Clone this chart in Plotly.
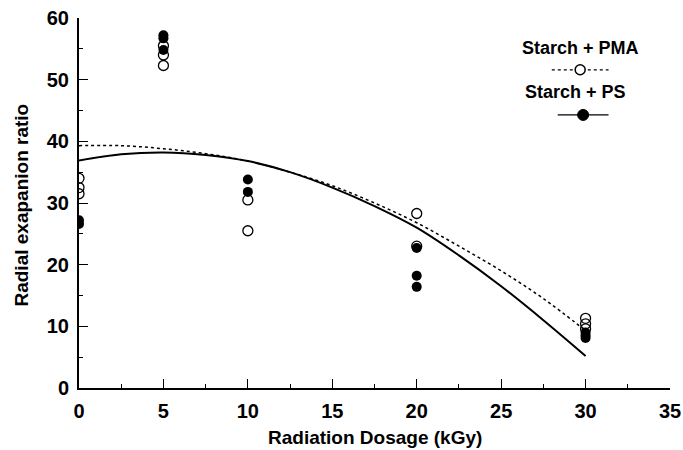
import plotly.graph_objects as go

# Measured points
pma_x = [0, 0, 0, 5, 5, 5, 10, 10, 20, 20, 30, 30, 30]
pma_y = [34.0, 32.5, 31.5, 55.5, 54.0, 52.3, 30.5, 25.5, 28.3, 23.0, 11.3, 10.4, 9.6]
ps_x = [0, 0, 5, 5, 5, 10, 10, 20, 20, 20, 30, 30, 30]
ps_y = [27.2, 26.6, 57.2, 56.7, 54.8, 33.8, 31.8, 22.7, 18.2, 16.4, 9.0, 8.5, 8.1]

# Fitted trend curves
fit_x = [0, 2.5, 5, 7.5, 10, 12.5, 15, 17.5, 20, 22.5, 25, 27.5, 30]
pma_fit = [39.3, 39.3, 38.8, 38.0, 36.8, 35.0, 32.8, 30.0, 26.8, 23.0, 19.0, 14.5, 9.3]
ps_fit = [36.9, 37.9, 38.2, 37.8, 36.8, 35.0, 32.5, 29.5, 26.0, 21.5, 16.5, 11.0, 5.2]

x_ticks = [0, 5, 10, 15, 20, 25, 30, 35]
y_ticks = [0, 10, 20, 30, 40, 50, 60]
legend_names = ["Starch + PMA", "Starch + PS"]
x_title = "Radiation Dosage (kGy)"
y_title = "Radial exapanion ratio"

FONT = "Liberation Sans, Arial, sans-serif"

fig = go.Figure()
fig.add_trace(go.Scatter(x=fit_x, y=pma_fit, mode="lines", line=dict(color="black", width=1.5, dash="dot", shape="spline"), showlegend=False))
fig.add_trace(go.Scatter(x=fit_x, y=ps_fit, mode="lines", line=dict(color="black", width=2, shape="spline"), showlegend=False))
fig.add_trace(go.Scatter(x=pma_x, y=pma_y, mode="markers",
                         marker=dict(symbol="circle-open", size=10, color="black", line=dict(width=1.3)), showlegend=False))
fig.add_trace(go.Scatter(x=ps_x, y=ps_y, mode="markers",
                         marker=dict(symbol="circle", size=10, color="black"), showlegend=False))

lfont = dict(family=FONT, size=18, color="black", weight="bold")
# Custom legend
fig.add_annotation(x=0.848, y=0.92, xref="paper", yref="paper", text=legend_names[0],
                   showarrow=False, font=lfont, xanchor="center", yanchor="middle")
fig.add_annotation(x=0.84, y=0.80, xref="paper", yref="paper", text=legend_names[1],
                   showarrow=False, font=lfont, xanchor="center", yanchor="middle")
fig.add_shape(type="line", xref="paper", yref="paper", x0=0.80, x1=0.896, y0=0.86, y1=0.86,
              line=dict(color="black", width=1.2, dash="dot"))
fig.add_shape(type="circle", xref="paper", yref="paper", xsizemode="pixel", ysizemode="pixel",
              xanchor=0.848, yanchor=0.86, x0=-5, x1=5, y0=-5, y1=5,
              line=dict(color="black", width=1.5), fillcolor="white")
fig.add_shape(type="line", xref="paper", yref="paper", x0=0.81, x1=0.896, y0=0.738, y1=0.738,
              line=dict(color="black", width=1.2))
fig.add_shape(type="circle", xref="paper", yref="paper", xsizemode="pixel", ysizemode="pixel",
              xanchor=0.853, yanchor=0.738, x0=-5.5, x1=5.5, y0=-5.5, y1=5.5,
              line=dict(color="black", width=1), fillcolor="black")

# Axis titles
tfont = dict(family=FONT, size=19, color="black", weight="bold")
fig.add_annotation(x=0.5, y=-0.135, xref="paper", yref="paper", text=x_title, showarrow=False,
                   font=tfont, xanchor="center", yanchor="middle")
fig.add_annotation(x=-0.097, y=0.495, xref="paper", yref="paper", text=y_title, showarrow=False,
                   font=tfont, textangle=-90, xanchor="center", yanchor="middle")

tkfont = dict(family=FONT, size=20, color="black", weight="bold")
fig.update_xaxes(range=[0, 35], tickvals=x_ticks, showline=True, linecolor="black", linewidth=2,
                 ticks="inside", ticklen=9, tickwidth=1, tickcolor="black",
                 minor=dict(dtick=2.5, ticks="inside", ticklen=4, tickcolor="black", showgrid=False),
                 showgrid=False, zeroline=False, automargin=False, ticklabelstandoff=4,
                 ticklabeloverflow="allow", tickfont=tkfont)
fig.update_yaxes(range=[0, 60], tickvals=y_ticks, showline=True, linecolor="black", linewidth=2,
                 ticks="inside", ticklen=9, tickwidth=1, tickcolor="black",
                 minor=dict(dtick=5, ticks="inside", ticklen=4, tickcolor="black", showgrid=False),
                 showgrid=False, zeroline=False, automargin=False, ticklabelstandoff=4,
                 ticklabeloverflow="allow", tickfont=tkfont)

fig.update_layout(width=683, height=450, margin=dict(l=79, r=13, t=18, b=62),
                  plot_bgcolor="white", paper_bgcolor="white", showlegend=False)

# remove the default 8px body margin so the figure sits at the page origin
fig.write_html("out.html", config={"displayModeBar": False},
               post_script="document.body.style.margin='0';document.body.style.overflow='hidden';")
